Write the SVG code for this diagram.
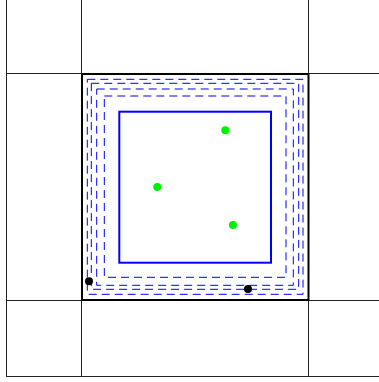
<svg xmlns="http://www.w3.org/2000/svg" width="379" height="382" viewBox="0 0 379 382">
<style>
.grid{stroke:#222;stroke-width:1;fill:none}
.bold{stroke:#000;stroke-width:2;fill:none}
.solid{stroke:#0000ff;stroke-width:2;fill:none}
.dash{stroke:#0000ff;stroke-width:1;fill:none;stroke-dasharray:8 5}
.green{fill:#00ee00}
.black{fill:#000}
</style>
<rect width="379" height="382" fill="#fff"/>
<g id="grid">
<line class="grid" x1="6.5" y1="0" x2="6.5" y2="376.5"/>
<line class="grid" x1="81.5" y1="0" x2="81.5" y2="376.5"/>
<line class="grid" x1="308.5" y1="0" x2="308.5" y2="376.5"/>
<line class="grid" x1="6" y1="73.5" x2="379" y2="73.5"/>
<line class="grid" x1="6" y1="300.5" x2="379" y2="300.5"/>
<line class="grid" x1="6" y1="376.5" x2="379" y2="376.5"/>
</g>
<g id="cell">
<rect class="bold" x="82" y="74" width="226.5" height="226"/>
</g>
<g id="dashed">
<rect class="dash" x="104.3" y="96" width="181.7" height="181.3"/>
<rect class="dash" x="96.7" y="89" width="196.6" height="196.3"/>
<rect class="dash" x="91.3" y="83.3" width="207.4" height="206"/>
<rect class="dash" x="87.3" y="79.3" width="215.7" height="215"/>
</g>
<g id="inner">
<rect class="solid" x="119.3" y="111.7" width="151.7" height="151"/>
</g>
<g id="points">
<circle class="green" cx="225.3" cy="130.3" r="4"/>
<circle class="green" cx="157.3" cy="187" r="4"/>
<circle class="green" cx="233" cy="225" r="4"/>
<circle class="black" cx="89" cy="281.3" r="4"/>
<circle class="black" cx="248" cy="289" r="4"/>
</g>
</svg>
